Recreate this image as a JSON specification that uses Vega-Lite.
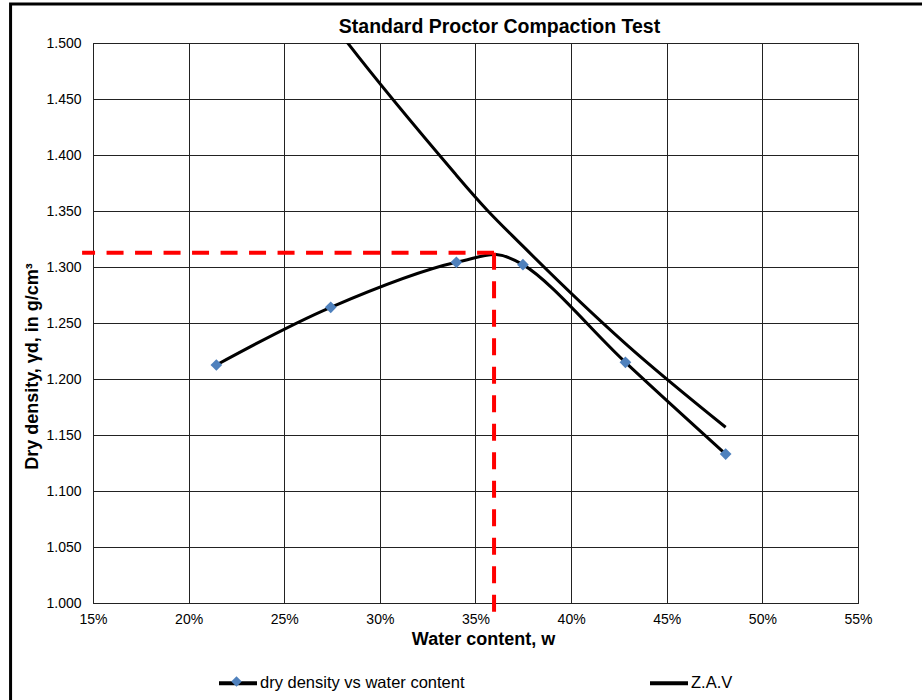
{
  "$schema": "https://vega.github.io/schema/vega-lite/v6.json",
  "width": 765,
  "height": 560,
  "autosize": {"type": "none"},
  "padding": {"left": 93, "top": 43, "right": 64, "bottom": 97},
  "background": "white",
  "config": {
    "font": "Liberation Sans",
    "view": {"stroke": "#000", "strokeWidth": 1},
    "axis": {
      "domain": false,
      "ticks": false,
      "tickSize": 0,
      "grid": true,
      "gridColor": "#222",
      "gridWidth": 1,
      "labelFlush": false,
      "labelColor": "#000",
      "titleColor": "#000",
      "labelFont": "Liberation Sans",
      "titleFont": "Liberation Sans"
    }
  },
  "title": {
    "text": "Standard Proctor Compaction Test",
    "font": "Liberation Sans",
    "fontSize": 19.5,
    "fontWeight": "bold",
    "color": "#000",
    "anchor": "middle",
    "frame": "group",
    "dx": 24,
    "dy": 27,
    "offset": -23,
    "baseline": "alphabetic"
  },
  "datasets": {
    "points": [
      {"series": "dry density vs water content", "w": 0.2145, "rho": 1.2125},
      {"series": "dry density vs water content", "w": 0.2743, "rho": 1.264},
      {"series": "dry density vs water content", "w": 0.34, "rho": 1.3042},
      {"series": "dry density vs water content", "w": 0.3748, "rho": 1.3021},
      {"series": "dry density vs water content", "w": 0.4284, "rho": 1.2149},
      {"series": "dry density vs water content", "w": 0.4808, "rho": 1.133},
      {"series": "Z.A.V", "w": 0.2145, "rho": 1.672},
      {"series": "Z.A.V", "w": 0.2743, "rho": 1.52},
      {"series": "Z.A.V", "w": 0.34, "rho": 1.382},
      {"series": "Z.A.V", "w": 0.3748, "rho": 1.3186},
      {"series": "Z.A.V", "w": 0.4284, "rho": 1.2316},
      {"series": "Z.A.V", "w": 0.4808, "rho": 1.1569}
    ],
    "optimum": [{"w_opt": 0.3597, "rho_max": 1.3128}]
  },
  "layer": [
    {
      "data": {"values": [{"frame": "chart area"}]},
      "mark": {"type": "rect", "fill": "transparent", "stroke": "#000", "strokeWidth": 3, "clip": false},
      "encoding": {
        "x": {"datum": 0.1069, "type": "quantitative", "scale": {"domain": [0.15, 0.55], "nice": false, "zero": false}},
        "x2": {"datum": 0.62},
        "y": {"datum": 1.5348, "type": "quantitative", "scale": {"domain": [1, 1.5], "nice": false, "zero": false}},
        "y2": {"datum": 0.9}
      }
    },
    {
      "data": {"name": "points"},
      "mark": {"type": "line", "interpolate": "cardinal", "strokeWidth": 3, "clip": true},
      "encoding": {
        "x": {
          "field": "w",
          "type": "quantitative",
          "title": "Water content, w",
          "scale": {"domain": [0.15, 0.55], "nice": false, "zero": false},
          "axis": {
            "values": [0.15, 0.2, 0.25, 0.3, 0.35, 0.4, 0.45, 0.5, 0.55],
            "format": ".0%",
            "labelFontSize": 14,
            "labelPadding": 9,
            "titleFontSize": 18,
            "titleFontWeight": "bold",
            "titleX": 390,
            "titleY": 36,
            "titleBaseline": "middle"
          }
        },
        "y": {
          "field": "rho",
          "type": "quantitative",
          "title": "Dry density, γd, in g/cm³",
          "scale": {"domain": [1, 1.5], "nice": false, "zero": false},
          "axis": {
            "values": [1, 1.05, 1.1, 1.15, 1.2, 1.25, 1.3, 1.35, 1.4, 1.45, 1.5],
            "format": ".3f",
            "labelFontSize": 14,
            "labelPadding": 12,
            "titleFontSize": 18,
            "titleFontWeight": "bold",
            "titleX": -61,
            "titleY": 323,
            "titleBaseline": "middle"
          }
        },
        "stroke": {
          "field": "series",
          "type": "nominal",
          "scale": {"domain": ["dry density vs water content", "Z.A.V"], "range": ["#000000", "#000000"]},
          "legend": {
            "title": null,
            "orient": "none",
            "legendX": 124,
            "legendY": 619,
            "direction": "horizontal",
            "symbolType": "stroke",
            "symbolSize": 1444,
            "symbolStrokeWidth": 4,
            "symbolStrokeColor": "#000",
            "labelFontSize": 16.5,
            "labelColor": "#000",
            "labelOffset": 1,
            "labelLimit": 400,
            "columnPadding": 177,
            "zindex": 0
          }
        }
      }
    },
    {
      "data": {"name": "points"},
      "transform": [{"filter": "datum.series === 'dry density vs water content'"}],
      "mark": {"type": "point", "shape": "diamond", "filled": true, "size": 137, "opacity": 1, "strokeWidth": 0},
      "encoding": {
        "x": {"field": "w", "type": "quantitative", "title": "Water content, w"},
        "y": {"field": "rho", "type": "quantitative", "title": "Dry density, γd, in g/cm³"},
        "fill": {
          "field": "series",
          "type": "nominal",
          "scale": {"domain": ["dry density vs water content"], "range": ["#4F81BD"]},
          "legend": {
            "title": null,
            "orient": "none",
            "legendX": 138,
            "legendY": 633,
            "symbolType": "diamond",
            "symbolSize": 110,
            "symbolStrokeWidth": 0,
            "symbolOpacity": 1,
            "labelExpr": "''",
            "zindex": 2
          }
        }
      }
    },
    {
      "data": {"name": "optimum"},
      "mark": {"type": "rule", "color": "#FF0000", "strokeWidth": 4, "strokeDash": [17, 11.5]},
      "encoding": {
        "x": {"field": "w_opt", "type": "quantitative", "title": "Water content, w"},
        "x2": {"datum": 0.1443},
        "y": {"field": "rho_max", "type": "quantitative", "title": "Dry density, γd, in g/cm³"}
      }
    },
    {
      "data": {"name": "optimum"},
      "mark": {"type": "rule", "color": "#FF0000", "strokeWidth": 4, "strokeDash": [17, 11.5]},
      "encoding": {
        "x": {"field": "w_opt", "type": "quantitative", "title": "Water content, w"},
        "y": {"field": "rho_max", "type": "quantitative", "title": "Dry density, γd, in g/cm³"},
        "y2": {"datum": 0.992}
      }
    }
  ]
}
